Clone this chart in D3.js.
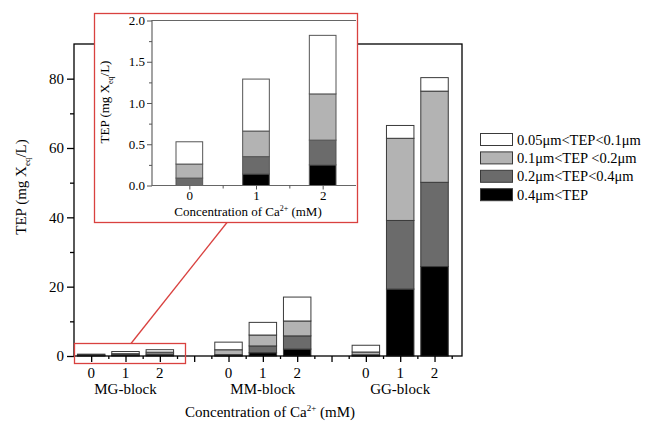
<!DOCTYPE html>
<html>
<head>
<meta charset="utf-8">
<script src="https://cdn.jsdelivr.net/npm/d3@7"></script>
<style>
  body { margin: 0; background: #fff; }
  svg { display: block; font-family: "Liberation Serif", "Times New Roman", serif; }
</style>
</head>
<body>
<svg id="chart" width="645" height="424"></svg>
<script>
// --- data (stack order bottom -> top) ---
const groups = ["MG-block", "MM-block", "GG-block"];
const concentrations = ["0", "1", "2"];
const sizeClasses = ["0.4\u03bcm<TEP", "0.2\u03bcm<TEP<0.4\u03bcm", "0.1\u03bcm<TEP <0.2\u03bcm", "0.05\u03bcm<TEP<0.1\u03bcm"];
const classColors = ["#000000", "#6b6b6b", "#b3b3b3", "#ffffff"];

// one value per bar: MG 0,1,2 | MM 0,1,2 | GG 0,1,2
const tepOver04 = [0, 0.14, 0.25, 0.05, 0.95, 2.0, 0.05, 19.3, 25.8];
const tep02to04 = [0.09, 0.21, 0.30, 0.35, 1.95, 3.8, 0.3, 19.8, 24.3];
const tep01to02 = [0.17, 0.31, 0.56, 1.4, 3.15, 4.3, 0.8, 23.7, 26.3];
const tep005to01 = [0.27, 0.63, 0.71, 2.2, 3.65, 6.9, 1.95, 3.7, 3.9];

const yTicksMain = [0, 20, 40, 60, 80];
const yTicksInset = [0, 0.5, 1.0, 1.5, 2.0];

const series = [tepOver04, tep02to04, tep01to02, tep005to01];

// build bar table
const bars = [];
groups.forEach((g, gi) => {
    concentrations.forEach((c, ci) => {
        const i = gi * 3 + ci;
        const row = { group: g, conc: c, pos: gi * 4 + ci + 1, ci: ci };
        series.forEach((s, k) => row["k" + k] = s[i]);
        bars.push(row);
    });
});
const stack = d3.stack().keys(["k0", "k1", "k2", "k3"]);

const svg = d3.select("#chart");
const red = "#d9413f";

// ================= main chart =================
const x = d3.scaleLinear().domain([0.5, 11.8]).range([74, 462]);
const y = d3.scaleLinear().domain([0, 90]).range([356, 44]);

const main = svg.append("g");

// bars
const layers = stack(bars);
main.selectAll(".layer")
    .data(layers)
    .enter().append("g")
    .attr("fill", (d, i) => classColors[i])
    .selectAll("rect")
    .data(d => d)
    .enter().append("rect")
    .attr("x", d => x(d.data.pos - 0.4))
    .attr("width", x(0.8) - x(0))
    .attr("y", d => y(d[1]))
    .attr("height", d => y(d[0]) - y(d[1]))
    .attr("stroke", "#3a3a3a")
    .attr("stroke-width", 1);

// frame
main.append("rect")
    .attr("x", x(0.5)).attr("y", y(90))
    .attr("width", x(11.8) - x(0.5)).attr("height", y(0) - y(90))
    .attr("fill", "none").attr("stroke", "#000").attr("stroke-width", 1.3);

// y axis
const yAxis = d3.axisLeft(y).tickValues(yTicksMain).tickSize(7).tickPadding(3).tickFormat(d3.format("d"));
main.append("g").attr("transform", `translate(${x(0.5)},0)`).call(yAxis)
    .call(g => g.select(".domain").remove())
    .call(g => g.selectAll("text").attr("font-size", 15).attr("font-family", "Liberation Serif"));
main.append("g").attr("transform", `translate(${x(0.5)},0)`)
    .call(d3.axisLeft(y).tickValues([10, 30, 50, 70]).tickSize(4).tickFormat(""))
    .call(g => g.select(".domain").remove());

// x axis: major ticks each integer, minor each half
main.append("g").attr("transform", `translate(0,${y(0)})`)
    .call(d3.axisBottom(x).tickValues(d3.range(1, 12)).tickSize(6).tickFormat(""))
    .call(g => g.select(".domain").remove());
main.append("g").attr("transform", `translate(0,${y(0)})`)
    .call(d3.axisBottom(x).tickValues(d3.range(1.5, 12, 1)).tickSize(3).tickFormat(""))
    .call(g => g.select(".domain").remove());

main.selectAll(".tick line").attr("stroke-width", 1.3);

// category labels
main.selectAll(".conc-label")
    .data(bars)
    .enter().append("text")
    .attr("x", d => x(d.pos))
    .attr("y", 378)
    .attr("text-anchor", "middle")
    .attr("font-size", 15)
    .text(d => d.conc);

main.selectAll(".group-label")
    .data(groups)
    .enter().append("text")
    .attr("x", (d, i) => x(i * 4 + 2))
    .attr("y", 394)
    .attr("text-anchor", "middle")
    .attr("font-size", 15)
    .text(d => d);

const xt = main.append("text")
    .attr("x", 270).attr("y", 417)
    .attr("text-anchor", "middle").attr("font-size", 15);
xt.append("tspan").text("Concentration of Ca");
xt.append("tspan").attr("font-size", 9).attr("dy", -6).text("2+");
xt.append("tspan").attr("dy", 6).text(" (mM)");

const yt = main.append("text")
    .attr("transform", "translate(26,187) rotate(-90)")
    .attr("text-anchor", "middle").attr("font-size", 15);
yt.append("tspan").text("TEP (mg X");
yt.append("tspan").attr("font-size", 9).attr("dy", 4).text("eq");
yt.append("tspan").attr("dy", -4).text("/L)");

// ================= zoom marker =================
svg.append("rect")
    .attr("x", 74.5).attr("y", 343.5).attr("width", 111).attr("height", 20)
    .attr("fill", "none").attr("stroke", red).attr("stroke-width", 1.3);
svg.append("line")
    .attr("x1", 131).attr("y1", 343.5).attr("x2", 227).attr("y2", 222.5)
    .attr("stroke", red).attr("stroke-width", 1.3);

// ================= inset =================
const ix = d3.scaleLinear().domain([-0.56, 2.5]).range([152, 356]);
const iy = d3.scaleLinear().domain([0, 2]).range([185.5, 20.5]);

svg.append("rect")
    .attr("x", 94.5).attr("y", 13.5).attr("width", 263).attr("height", 209)
    .attr("fill", "#fff").attr("stroke", red).attr("stroke-width", 1.3);

const inset = svg.append("g");
const insetBars = bars.filter(d => d.group === "MG-block");
inset.selectAll(".layer")
    .data(stack(insetBars))
    .enter().append("g")
    .attr("fill", (d, i) => classColors[i])
    .selectAll("rect")
    .data(d => d)
    .enter().append("rect")
    .attr("x", d => ix(d.data.ci - 0.2))
    .attr("width", ix(0.4) - ix(0))
    .attr("y", d => iy(d[1]))
    .attr("height", d => iy(d[0]) - iy(d[1]))
    .attr("stroke", "#555")
    .attr("stroke-width", 1);

inset.append("path")
    .attr("d", `M${ix(2.5)},${iy(0)}H${ix(-0.56)}V${iy(2)}H${ix(2.5)}`)
    .attr("fill", "none").attr("stroke", "#666").attr("stroke-width", 1.2);

inset.append("g").attr("transform", `translate(${ix(-0.56)},0)`)
    .call(d3.axisLeft(iy).tickValues(yTicksInset).tickSize(5).tickPadding(2).tickFormat(d3.format(".1f")))
    .call(g => g.select(".domain").remove())
    .call(g => g.selectAll("text").attr("font-size", 13).attr("font-family", "Liberation Serif"));
inset.append("g").attr("transform", `translate(${ix(-0.56)},0)`)
    .call(d3.axisLeft(iy).tickValues([0.25, 0.75, 1.25, 1.75]).tickSize(3).tickFormat(""))
    .call(g => g.select(".domain").remove());
inset.append("g").attr("transform", `translate(0,${iy(0)})`)
    .call(d3.axisBottom(ix).tickValues([0, 1, 2]).tickSize(4).tickPadding(1).tickFormat((d, i) => concentrations[i]))
    .call(g => g.select(".domain").remove())
    .call(g => g.selectAll("text").attr("font-size", 13).attr("font-family", "Liberation Serif"));
inset.append("g").attr("transform", `translate(0,${iy(0)})`)
    .call(d3.axisBottom(ix).tickValues([0.5, 1.5]).tickSize(3).tickFormat(""))
    .call(g => g.select(".domain").remove());
inset.selectAll(".tick line").attr("stroke", "#555");

const ixt = inset.append("text")
    .attr("x", 248).attr("y", 216)
    .attr("text-anchor", "middle").attr("font-size", 13);
ixt.append("tspan").text("Concentration of Ca");
ixt.append("tspan").attr("font-size", 8).attr("dy", -5).text("2+");
ixt.append("tspan").attr("dy", 5).text(" (mM)");

const iyt = inset.append("text")
    .attr("transform", "translate(109,102) rotate(-90)")
    .attr("text-anchor", "middle").attr("font-size", 13);
iyt.append("tspan").text("TEP (mg X");
iyt.append("tspan").attr("font-size", 8).attr("dy", 4).text("eq");
iyt.append("tspan").attr("dy", -4).text("/L)");

// ================= legend =================
const legendOrder = [3, 2, 1, 0];
const legend = svg.append("g").attr("transform", "translate(480,133)");
const item = legend.selectAll(".item")
    .data(legendOrder)
    .enter().append("g")
    .attr("transform", (d, i) => `translate(0,${i * 18.4})`);
item.append("rect")
    .attr("x", 0.5).attr("y", 0.5).attr("width", 32).attr("height", 12)
    .attr("fill", d => classColors[d]).attr("stroke", "#3a3a3a").attr("stroke-width", 1);
item.append("text")
    .attr("x", 37).attr("y", 11.5)
    .attr("font-size", 14.5)
    .text(d => sizeClasses[d]);
</script>
</body>
</html>
